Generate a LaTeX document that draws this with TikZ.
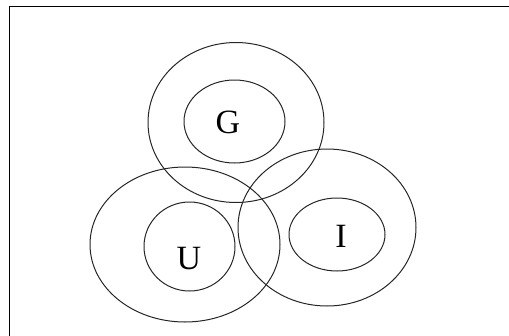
\documentclass[tikz,border=0pt]{standalone}
\usepackage{fontspec}
\setmainfont{Liberation Serif}
\begin{document}
\begin{tikzpicture}[x=1pt,y=-1pt,
  ring/.style={draw=black!85,line width=1pt},
  lbl/.style={font=\fontsize{34}{38}\selectfont,inner sep=0pt,anchor=base}]
\useasboundingbox (0,0) rectangle (509,335);
\draw[line width=1.8pt,line cap=rect] (9.5,335) -- (9.5,6.5) -- (509,6.5);
% G
\draw[ring] (236,122.5) ellipse [x radius=88,y radius=80];
\draw[ring] (234.5,121.5) ellipse [x radius=50.5,y radius=41.5];
% U
\draw[ring] (185,244.5) ellipse [x radius=95,y radius=77.5];
\draw[ring] (189.5,246.5) ellipse [x radius=45.5,y radius=44.5];
% I
\draw[ring] (327,227.5) ellipse [x radius=89,y radius=78.5];
\draw[ring] (337,234.5) ellipse [x radius=48,y radius=36.5];
\node[lbl] (g) at (228,133) {G};
\node[lbl] (u) at (189,269) {U};
\node[lbl] (i) at (341,247) {I};
\end{tikzpicture}
\end{document}
